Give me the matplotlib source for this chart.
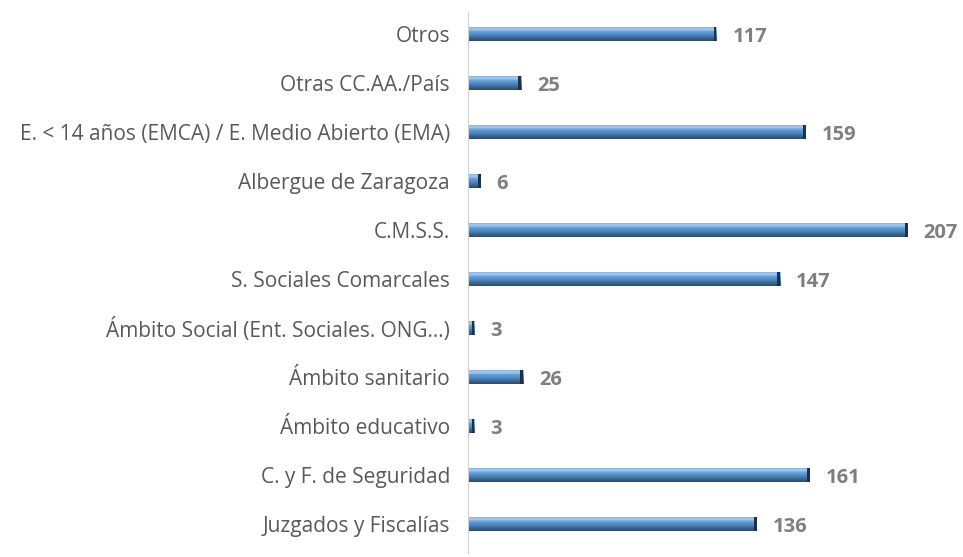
import matplotlib.pyplot as plt
import numpy as np
from matplotlib.colors import LinearSegmentedColormap

plt.rcParams['font.family'] = ['Open Sans', 'DejaVu Sans']

categories = ["Juzgados y Fiscalías",
              "C. y F. de Seguridad",
              "Ámbito educativo",
              "Ámbito sanitario",
              "Ámbito Social (Ent. Sociales. ONG...)",
              "S. Sociales Comarcales",
              "C.M.S.S.",
              "Albergue de Zaragoza",
              "E. < 14 años (EMCA) / E. Medio Abierto (EMA)",
              "Otras CC.AA./País",
              "Otros"]
values = [136, 161, 3, 26, 3, 147, 207, 6, 159, 25, 117]

fig = plt.figure(figsize=(9.63, 5.57), dpi=100)
ax = fig.add_axes([468/963, 4/557, 482/963, 541/557])

y = np.arange(len(categories))
bars = ax.barh(y, values, height=0.29, color="#5b9bd5", edgecolor="none")

# gradient look of the bars (dark at the bottom, light band near the top)
grad = LinearSegmentedColormap.from_list(
    "g", ["#2c4a6b", "#3b6590", "#4f86c0", "#5f9ad6", "#a9cdf0", "#6fa6de"])
col = np.linspace(0, 1, 64).reshape(-1, 1)
for b in bars:
    x0, y0 = b.get_x(), b.get_y()
    w, h = b.get_width(), b.get_height()
    im = ax.imshow(col, cmap=grad, aspect="auto", origin="lower",
                   extent=[x0, x0 + w, y0, y0 + h], zorder=2)
    im.set_clip_path(b)
    # dark bevel on the right end
    bw = min(1.3, w * 0.4)
    ax.barh(y0 + h / 2, bw, left=x0 + w - bw, height=h,
            color="#1c324c", zorder=3)

for yi, v in zip(y, values):
    ax.text(v + 7.5, yi - 0.06, str(v), va="center", ha="left",
            fontsize=14.5, fontweight="bold", color="#7f7f7f")

ax.set_yticks(y)
ax.set_yticklabels(categories, fontsize=15, color="#595959")
ax.set_xlim(0, 227)
ax.set_ylim(-0.6, 10.45)
ax.set_xticks([])
ax.tick_params(axis="y", length=0, pad=13)
for s in ["top", "right", "bottom"]:
    ax.spines[s].set_visible(False)
ax.spines["left"].set_color("#d0d0d0")

fig.savefig("out.png", dpi=100)
